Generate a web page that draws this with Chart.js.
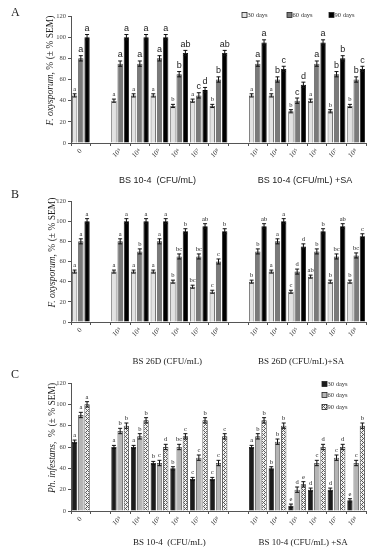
<!DOCTYPE html>
<html>
<head>
<meta charset="utf-8">
<script src="https://cdn.jsdelivr.net/npm/chart.js@4.4.1/dist/chart.umd.min.js"></script>
<style>
  body { margin: 0; background: #fff; }
  .panel { position: absolute; left: 0; width: 375px; }
</style>
</head>
<body>
<div class="panel" style="top:0"><canvas id="chartA" width="375" height="187"></canvas></div>
<div class="panel" style="top:187px"><canvas id="chartB" width="375" height="180"></canvas></div>
<div class="panel" style="top:367px"><canvas id="chartC" width="375" height="183"></canvas></div>
<script>
// categories (empty slots separate the two groups)
const categories = ['0', '', '10³', '10⁴', '10⁵', '10⁶', '10⁷', '10⁸', '', '10³', '10⁴', '10⁵', '10⁶', '10⁷', '10⁸'];
const seriesNames = ['30 days', '60 days', '90 days'];
const yTicks = [0, 20, 40, 60, 80, 100, 120];

// Panel A - F. oxysporum, BS 10-4
const a30 = [45, null, 40, 45, 45, 35, 40, 35, null, 45, 45, 30, 40, 30, 35];
const a60 = [80, null, 75, 75, 80, 65, 45, 60, null, 75, 60, 40, 75, 65, 60];
const a90 = [100, null, 100, 100, 100, 85, 50, 85, null, 95, 70, 55, 95, 80, 70];
const a30Let = ['a', '', 'a', 'a', 'a', 'b', 'a', 'b', '', 'a', 'a', 'b', 'a', 'b', 'b'];
const a60Let = ['a', '', 'a', 'a', 'a', 'b', 'c', 'b', '', 'a', 'b', 'c', 'a', 'b', 'b'];
const a90Let = ['a', '', 'a', 'a', 'a', 'ab', 'd', 'ab', '', 'a', 'c', 'd', 'a', 'b', 'c'];

// Panel B - F. oxysporum, BS 26D
const b30 = [50, null, 50, 50, 50, 40, 35, 30, null, 40, 50, 30, 45, 40, 40];
const b60 = [80, null, 80, 70, 80, 65, 65, 60, null, 70, 80, 50, 70, 65, 66];
const b90 = [100, null, 100, 100, 100, 90, 95, 90, null, 95, 100, 75, 90, 95, 85];
const b30Let = ['a', '', 'a', 'a', 'a', 'b', 'bc', 'c', '', 'b', 'a', 'c', 'ab', 'b', 'b'];
const b60Let = ['a', '', 'a', 'b', 'a', 'bc', 'bc', 'c', '', 'b', 'a', 'd', 'b', 'bc', 'bc'];
const b90Let = ['a', '', 'a', 'a', 'a', 'b', 'ab', 'b', '', 'ab', 'a', 'd', 'b', 'ab', 'c'];

// Panel C - Ph. infestans, BS 10-4
const c30 = [65, null, 60, 60, 45, 40, 30, 30, null, 60, 40, 5, 20, 20, 10];
const c60 = [90, null, 75, 70, 45, 60, 50, 45, null, 70, 65, 20, 45, 50, 45];
const c90 = [100, null, 80, 85, 60, 70, 85, 70, null, 85, 80, 25, 60, 60, 80];
const c30Let = ['a', '', 'a', 'a', 'b', 'b', 'c', 'c', '', 'a', 'b', 'e', 'd', 'd', 'e'];
const c60Let = ['a', '', 'b', 'b', 'c', 'bc', 'c', 'c', '', 'b', 'b', 'd', 'c', 'c', 'c'];
const c90Let = ['a', '', 'b', 'b', 'd', 'c', 'b', 'c', '', 'b', 'b', 'e', 'd', 'd', 'b'];

const sem = [1.5, 2.5, 2.5];

const SERIF = '"Liberation Serif", "DejaVu Serif", serif';
const SANS = '"Liberation Sans", Arial, sans-serif';

// crosshatch fill for the 90 days bars in panel C
function hatch() {
    const c = document.createElement('canvas');
    c.width = 4; c.height = 4;
    const g = c.getContext('2d');
    g.fillStyle = '#f4f4f4';
    g.fillRect(0, 0, 4, 4);
    g.fillStyle = '#5a5a5a';
    g.fillRect(0, 0, 1, 1); g.fillRect(1, 1, 1, 1); g.fillRect(2, 2, 1, 1); g.fillRect(3, 3, 1, 1);
    g.fillRect(2, 0, 1, 1); g.fillRect(0, 2, 1, 1);
    return g.createPattern(c, 'repeat');
}

// error bars and significance letters
const barMarks = {
    id: 'barMarks',
    afterDatasetsDraw(chart, args, opts) {
        const ctx = chart.ctx;
        const y = chart.scales.y;
        ctx.save();
        chart.data.datasets.forEach((ds, i) => {
            chart.getDatasetMeta(i).data.forEach((bar, j) => {
                const v = ds.data[j];
                if (v == null) return;
                const top = y.getPixelForValue(v + sem[i]);
                const bot = y.getPixelForValue(v - sem[i]);
                const half = bar.width * 0.38;
                ctx.strokeStyle = '#111';
                ctx.lineWidth = 1;
                ctx.beginPath();
                ctx.moveTo(bar.x, top); ctx.lineTo(bar.x, bot);
                ctx.moveTo(bar.x - half, top); ctx.lineTo(bar.x + half, top);
                ctx.moveTo(bar.x - half, bot); ctx.lineTo(bar.x + half, bot);
                ctx.stroke();
                ctx.fillStyle = '#222';
                ctx.font = opts.fonts[i];
                ctx.textAlign = 'center';
                ctx.textBaseline = 'bottom';
                ctx.fillText(opts.letters[i][j], bar.x, top - 1.5);
            });
        });
        ctx.restore();
    }
};

// panel letter, y title, group captions, legend
const frame = {
    id: 'frame',
    afterDraw(chart, args, o) {
        const ctx = chart.ctx;
        const area = chart.chartArea;
        const x = chart.scales.x;
        ctx.save();
        ctx.fillStyle = '#222';
        ctx.font = '12px ' + SERIF;
        ctx.textAlign = 'left';
        ctx.textBaseline = 'middle';
        ctx.fillText(o.panel, 11, o.panelY);

        // rotated y title, italic species name
        ctx.save();
        ctx.translate(o.titleX, (area.top + area.bottom) / 2 - 9);
        ctx.rotate(-Math.PI / 2);
        ctx.font = 'italic 9.5px ' + SERIF;
        const w1 = ctx.measureText(o.titleItalic).width;
        ctx.font = '9.5px ' + SERIF;
        const w2 = ctx.measureText(o.titleRest).width;
        let sx = -(w1 + w2) / 2;
        ctx.textAlign = 'left';
        ctx.font = 'italic 9.5px ' + SERIF;
        ctx.fillText(o.titleItalic, sx, 0);
        ctx.font = '9.5px ' + SERIF;
        ctx.fillText(o.titleRest, sx + w1, 0);
        ctx.restore();

        // group captions under the axis
        ctx.font = o.groupFont;
        ctx.textAlign = 'center';
        o.groups.forEach(g => {
            ctx.fillText(g.text, x.getPixelForValue(g.at) + g.dx, o.groupY);
        });

        // legend
        ctx.font = '6.5px ' + SERIF;
        ctx.textAlign = 'left';
        o.legend.forEach((p, i) => {
            const ds = chart.data.datasets[i];
            ctx.fillStyle = ds.backgroundColor;
            ctx.fillRect(p[0], p[1] - 2.5, 5, 5);
            ctx.strokeStyle = '#222';
            ctx.lineWidth = 0.8;
            ctx.strokeRect(p[0], p[1] - 2.5, 5, 5);
            ctx.fillStyle = '#333';
            ctx.fillText(seriesNames[i], p[0] + 5.5, p[1]);
        });
        ctx.restore();
    }
};

function makePanel(id, values, letters, colors, borders, letterFonts, frameOpts, box) {
    return new Chart(document.getElementById(id), {
        type: 'bar',
        data: {
            labels: categories,
            datasets: values.map((d, i) => ({
                label: seriesNames[i],
                data: d,
                backgroundColor: colors[i],
                borderColor: borders[i],
                borderWidth: 0.8,
                categoryPercentage: 0.95,
                barPercentage: 0.85
            }))
        },
        options: {
            responsive: false,
            animation: false,
            devicePixelRatio: 1,
            layout: { padding: { top: box.top, right: 9, left: 0, bottom: 0 } },
            plugins: {
                legend: { display: false },
                tooltip: { enabled: false },
                barMarks: { letters: letters, fonts: letterFonts },
                frame: frameOpts
            },
            scales: {
                x: {
                    afterFit: s => { s.height = box.xHeight; },
                    border: { color: '#555', width: 1 },
                    grid: { display: true, drawOnChartArea: false, tickLength: 3, color: '#555', offset: true },
                    ticks: {
                        autoSkip: false,
                        minRotation: 45,
                        maxRotation: 45,
                        padding: 1,
                        color: '#333',
                        font: { family: SERIF, size: 7 }
                    }
                },
                y: {
                    min: 0,
                    max: 120,
                    afterFit: s => { s.width = 71; },
                    afterBuildTicks: s => { s.ticks = yTicks.map(v => ({ value: v })); },
                    border: { color: '#555', width: 1 },
                    grid: { drawOnChartArea: false, tickLength: 3, color: '#555' },
                    ticks: {
                        padding: 2,
                        color: '#444',
                        font: { family: SERIF, size: 6.5 }
                    }
                }
            }
        },
        plugins: [barMarks, frame]
    });
}

const smallLet = '6.5px ' + SERIF;
const bigLet = '9px ' + SANS;

makePanel('chartA', [a30, a60, a90], [a30Let, a60Let, a90Let],
    ['#e2e2e2', '#7a7a7a', '#000'], ['#333', '#333', '#000'],
    [smallLet, bigLet, bigLet],
    {
        panel: 'A', panelY: 13, titleX: 50,
        titleItalic: 'F. oxysporum', titleRest: ', % (± % SEM)',
        groupFont: '9px ' + SANS, groupY: 181,
        groups: [{ text: 'BS 10-4  (CFU/mL)', at: 4, dx: -2 }, { text: 'BS 10-4 (CFU/mL) +SA', at: 11.5, dx: -2 }],
        legend: [[242, 15], [287, 15], [329, 15]]
    },
    { top: 16, xHeight: 44 });

makePanel('chartB', [b30, b60, b90], [b30Let, b60Let, b90Let],
    ['#e2e2e2', '#7a7a7a', '#000'], ['#333', '#333', '#000'],
    [smallLet, smallLet, smallLet],
    {
        panel: 'B', panelY: 8, titleX: 52,
        titleItalic: 'F. oxysporum', titleRest: ', % (± % SEM)',
        groupFont: '9px ' + SERIF, groupY: 175,
        groups: [{ text: 'BS 26D (CFU/mL)', at: 4.4, dx: 0 }, { text: 'BS 26D (CFU/mL)+SA', at: 11.2, dx: 0 }],
        legend: []
    },
    { top: 14, xHeight: 45 });

makePanel('chartC', [c30, c60, c90], [c30Let, c60Let, c90Let],
    ['#1c1c1c', '#b4b4b4', hatch()], ['#111', '#333', '#222'],
    [smallLet, smallLet, smallLet],
    {
        panel: 'C', panelY: 8, titleX: 52,
        titleItalic: 'Ph. infestans,', titleRest: '  % (± % SEM)',
        groupFont: '9px ' + SERIF, groupY: 176,
        groups: [{ text: 'BS 10-4  (CFU/mL)', at: 4.5, dx: 0 }, { text: 'BS 10-4 (CFU/mL) +SA', at: 11.3, dx: 0 }],
        legend: [[322, 17], [322, 28], [322, 40]]
    },
    { top: 16, xHeight: 39 });
</script>
</body>
</html>
